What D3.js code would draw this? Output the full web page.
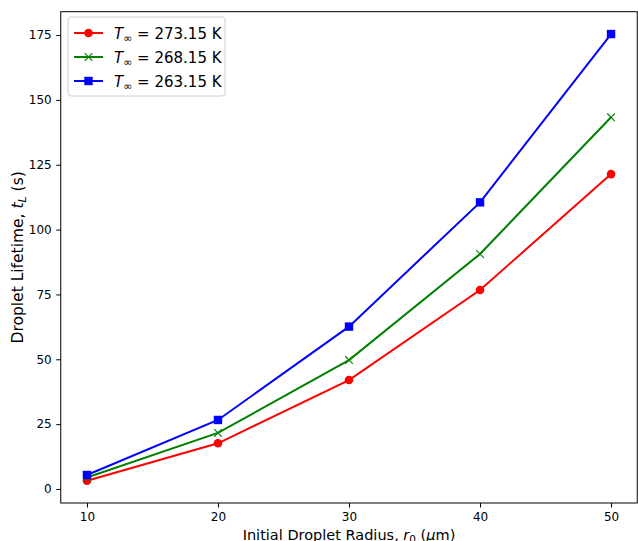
<!DOCTYPE html>
<html>
<head>
<meta charset="utf-8">
<script src="https://cdn.jsdelivr.net/npm/d3@7"></script>
<style>
  body { margin: 0; background: white; }
  text { font-family: "DejaVu Sans", sans-serif; }
</style>
</head>
<body>
<div id="chart"></div>
<script>
// Rayons initiaux (µm) et durée de vie des gouttes (s)
const radii = [10, 20, 30, 40, 50];
const life273 = [3.2, 17.6, 42.0, 76.7, 121.4];
const life268 = [4.4, 21.6, 49.7, 90.6, 143.3];
const life263 = [5.4, 26.6, 62.6, 110.5, 175.4];
const xTicks = [10, 20, 30, 40, 50];
const yTicks = [0, 25, 50, 75, 100, 125, 150, 175];
const labels = ["273.15 K", "268.15 K", "263.15 K"];

const series = [
    { name: labels[0], values: life273, color: "#ff0000", marker: "circle" },
    { name: labels[1], values: life268, color: "#008000", marker: "x" },
    { name: labels[2], values: life263, color: "#0000ff", marker: "square" }
];

// Marges et canevas
const W = 638, H = 541;
const margin = { top: 11.7, right: 0, bottom: 38, left: 60.75 };
const width = 576.5, height = 503 - margin.top;

const svg = d3.select("#chart")
    .append("svg")
    .attr("width", W)
    .attr("height", H);

const g = svg.append("g")
    .attr("transform", "translate(" + margin.left + "," + margin.top + ")");

// Echelles (marges de 5% comme matplotlib)
const x = d3.scaleLinear().domain([8, 52]).range([0, width]);
const yMin = 3.2, yMax = 175.4, pad = (yMax - yMin) * 0.05;
const y = d3.scaleLinear().domain([yMin - pad, yMax + pad]).range([height, 0]);

// Axes
const xAxis = g.append("g")
    .attr("transform", "translate(0," + height + ")")
    .call(d3.axisBottom(x).tickValues(xTicks).tickSize(4.5).tickPadding(4.5));
const yAxis = g.append("g")
    .call(d3.axisLeft(y).tickValues(yTicks).tickSize(4.5).tickPadding(4.5));

[xAxis, yAxis].forEach(a => {
    a.select(".domain").remove();
    a.selectAll("line").attr("stroke", "#000").attr("stroke-width", 1);
    a.selectAll("text").style("font-size", "12px").attr("fill", "#000")
        .style("font-family", "DejaVu Sans");
});

// Cadre
g.append("rect")
    .attr("x", 0).attr("y", 0)
    .attr("width", width).attr("height", height)
    .attr("fill", "none").attr("stroke", "#000").attr("stroke-width", 1);

// Lignes
const line = d3.line().x((d, i) => x(radii[i])).y(d => y(d));

function drawMarker(sel, type, color, cx, cy) {
    if (type === "circle") {
        sel.append("circle").attr("cx", cx).attr("cy", cy).attr("r", 4.3).attr("fill", color);
    } else if (type === "square") {
        sel.append("rect").attr("x", cx - 4.2).attr("y", cy - 4.2)
            .attr("width", 8.4).attr("height", 8.4).attr("fill", color);
    } else {
        const s = 3.8;
        sel.append("path")
            .attr("d", `M${cx - s},${cy - s}L${cx + s},${cy + s}M${cx - s},${cy + s}L${cx + s},${cy - s}`)
            .attr("stroke", color).attr("stroke-width", 1.1).attr("fill", "none");
    }
}

series.forEach(s => {
    g.append("path")
        .datum(s.values)
        .attr("d", line)
        .attr("fill", "none")
        .attr("stroke", s.color)
        .attr("stroke-width", 2);
    const mg = g.append("g");
    s.values.forEach((v, i) => drawMarker(mg, s.marker, s.color, x(radii[i]), y(v)));
});

// Libellés des axes
const xl = svg.append("text")
    .attr("x", margin.left + width / 2)
    .attr("y", 539.5)
    .attr("text-anchor", "middle")
    .style("font-size", "14.5px");
xl.append("tspan").text("Initial Droplet Radius, ");
xl.append("tspan").text("r").style("font-style", "italic");
xl.append("tspan").text("0").attr("dy", 3).style("font-size", "10.5px");
xl.append("tspan").text(" (").attr("dy", -3);
xl.append("tspan").text("μ").style("font-style", "italic");
xl.append("tspan").text("m)");

const yl = svg.append("text")
    .attr("transform", "translate(23," + (margin.top + height / 2) + ") rotate(-90)")
    .attr("text-anchor", "middle")
    .style("font-size", "15.5px");
yl.append("tspan").text("Droplet Lifetime, ");
yl.append("tspan").text("t").style("font-style", "italic");
yl.append("tspan").text("L").attr("dy", 3).style("font-size", "11px").style("font-style", "italic");
yl.append("tspan").text(" (s)").attr("dy", -3);

// Légende
const lg = svg.append("g").attr("transform", "translate(68,17)");
lg.append("rect")
    .attr("width", 157).attr("height", 79).attr("rx", 3)
    .attr("fill", "white").attr("fill-opacity", 0.8)
    .attr("stroke", "#d0d0d0").attr("stroke-width", 1);

series.forEach((s, i) => {
    const yy = 16 + i * 24;
    lg.append("line")
        .attr("x1", 6).attr("x2", 35).attr("y1", yy).attr("y2", yy)
        .attr("stroke", s.color).attr("stroke-width", 2);
    drawMarker(lg, s.marker, s.color, 20.5, yy);
    const t = lg.append("text").attr("x", 46).attr("y", yy + 5.5).style("font-size", "15px");
    t.append("tspan").text("T").style("font-style", "italic");
    t.append("tspan").text("∞").attr("dy", 3).style("font-size", "11px");
    t.append("tspan").text(" = " + s.name).attr("dy", -3);
});
</script>
</body>
</html>
